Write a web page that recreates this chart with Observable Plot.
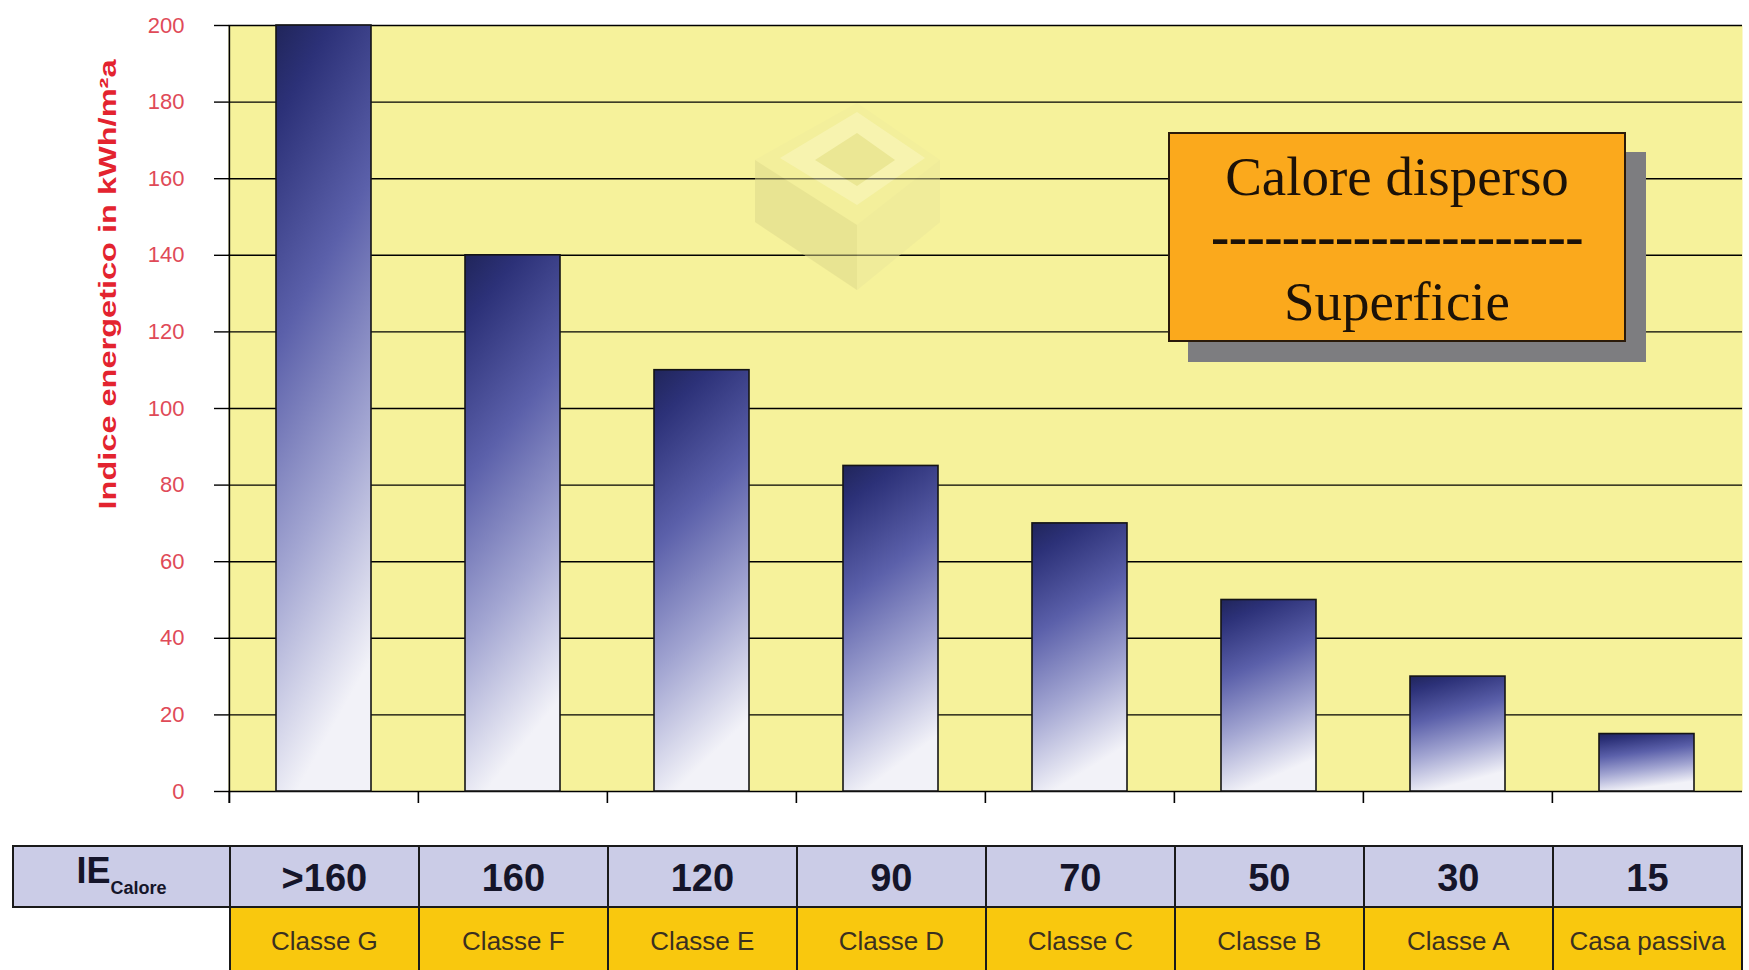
<!DOCTYPE html>
<html>
<head>
<meta charset="utf-8">
<script src="https://cdn.jsdelivr.net/npm/d3@7"></script>
<script src="https://cdn.jsdelivr.net/npm/@observablehq/plot@0.6"></script>
<style>
  body { margin: 0; background: #fff; }
  #wrap { position: relative; width: 1749px; height: 970px; overflow: hidden; font-family: "Liberation Sans", Arial, sans-serif; }
  #wrap svg { position: absolute; left: 0; top: 0; overflow: visible; }
  .cell { position: absolute; box-sizing: border-box; display: flex; align-items: center; justify-content: center; }
  .legendbox { position: absolute; box-sizing: border-box; background: #fba91c; border: 2px solid #2a1a0a; box-shadow: 20px 20px 0 #7d7d80; font-family: "Liberation Serif", "Times New Roman", serif; color: #1c1208; }
  .legendbox div { position: absolute; left: 0; right: 0; text-align: center; white-space: nowrap; }
</style>
</head>
<body>
<div id="wrap"></div>
<script>
// ---- data ----
const categories = ["Classe G", "Classe F", "Classe E", "Classe D", "Classe C", "Classe B", "Classe A", "Casa passiva"];
const values = [200, 140, 110, 85, 70, 50, 30, 15];
const ieLabels = [">160", "160", "120", "90", "70", "50", "30", "15"];
const yTicks = [0, 20, 40, 60, 80, 100, 120, 140, 160, 180, 200];
const yLabel = "Indice energetico in kWh/m²a";
const rowHeaderMain = "IE";
const rowHeaderSub = "Calore";
const boxLines = ["Calore disperso", "---------------------", "Superficie"];

const data = categories.map((c, i) => ({cat: c, value: values[i]}));

// ---- layout ----
const W = 1749, H = 820, ML = 228, MR = 7, MT = 25, MB = 29;
const padInner = 0.5, padOuter = 0.25;
const step = (W - ML - MR) / (categories.length - padInner + 2 * padOuter);

const plot = Plot.plot({
  width: W, height: H,
  marginLeft: ML, marginRight: MR, marginTop: MT, marginBottom: MB,
  style: {background: "transparent", fontFamily: "Liberation Sans, Arial, sans-serif", overflow: "visible"},
  x: {domain: categories, paddingInner: padInner, paddingOuter: padOuter, align: 0.5, axis: null},
  y: {domain: [0, 200], axis: null},
  marks: [
    Plot.frame({fill: "#f6f29b", stroke: "none"}),
    Plot.gridY(yTicks, {stroke: "#000", strokeOpacity: 1, strokeWidth: 1.4}),
    Plot.barY(data, {x: "cat", y: "value", fill: "url(#barGrad)", stroke: "#151515", strokeWidth: 1.6}),
    Plot.ruleX([categories[0]], {x: d => d, dx: -step / 2, stroke: "#000", strokeWidth: 1.6, insetBottom: -12}),
    Plot.axisX(categories, {tickSize: 12, tickFormat: () => "", dx: -step / 2, stroke: "#000", strokeWidth: 1.6, label: null}),
    Plot.axisY(yTicks, {tickSize: 14, tickPadding: 30, stroke: "#000", strokeWidth: 1.4, fill: "#e04a58", fontSize: 22, label: null}),
    Plot.text([yLabel], {text: d => d, frameAnchor: "left", rotate: -90, dx: -120, dy: -124, textAnchor: "middle",
      fontSize: 23, fontWeight: "bold", fill: "#e3232f"})
  ]
});

const svg = d3.select(plot);
const defs = svg.insert("defs", ":first-child");
const grad = defs.append("linearGradient").attr("id", "barGrad")
  .attr("x1", 0).attr("y1", 0).attr("x2", 0.22).attr("y2", 1);
[[0, "#20255a"], [0.12, "#2c3178"], [0.4, "#5b60aa"], [0.7, "#a3a6d2"], [1, "#f2f2f8"]]
  .forEach(([o, c]) => grad.append("stop").attr("offset", o).attr("stop-color", c));

svg.selectAll("text").filter(function() { return this.textContent === yLabel; })
  .attr("textLength", 450).attr("lengthAdjust", "spacingAndGlyphs");

// faint decorative watermark (house logo), drawn over the gridlines but under the bars
const barG = plot.querySelector("g[aria-label*=bar]");
const wm = d3.create("svg:g").attr("opacity", 0.5);
if (barG) barG.parentNode.insertBefore(wm.node(), barG); else plot.appendChild(wm.node());
wm.append("path").attr("d", "M857,103 L940,160 L940,222 L857,290 L755,222 L755,160 Z").attr("fill", "#f1ed9c");
wm.append("path").attr("d", "M755,160 L857,225 L857,290 L755,222 Z").attr("fill", "#dcd78a");
wm.append("path").attr("d", "M857,225 L940,160 L940,222 L857,290 Z").attr("fill", "#ebe79a");
wm.append("path").attr("d", "M780,158 L857,112 L925,158 L857,205 Z").attr("fill", "#f8f5c4");
wm.append("path").attr("d", "M815,160 L857,133 L895,160 L857,186 Z").attr("fill", "#e2dd8e");

const wrap = document.getElementById("wrap");
wrap.appendChild(plot);

// ---- table below the chart, aligned to the x scale ----
const xs = plot.scale("x");
const bw = xs.bandwidth;
const bounds = categories.map(c => xs.apply(c) - (step - bw) / 2);
bounds.push(bounds[bounds.length - 1] + step);

const row1Top = 845, row1H = 63, row2Top = 906, row2H = 80;
function cell(left, top, w, h, bg, html, css) {
  const d = document.createElement("div");
  d.className = "cell";
  Object.assign(d.style, {left: left + "px", top: top + "px", width: w + "px", height: h + "px", background: bg,
    border: "2px solid #1a1a1a"}, css || {});
  d.innerHTML = html;
  wrap.appendChild(d);
  return d;
}
cell(12, row1Top, bounds[0] - 12 + 2, row1H, "#cbcce7",
  `<span style="font-weight:bold;font-size:36px;color:#15152a;position:relative;top:-6px">${rowHeaderMain}</span>` +
  `<span style="font-weight:bold;font-size:18px;color:#15152a;position:relative;top:12px">${rowHeaderSub}</span>`);
categories.forEach((c, i) => {
  const l = bounds[i], w = bounds[i + 1] - bounds[i] + 2;
  cell(l, row1Top, w, row1H, "#cbcce7",
    `<span style="font-weight:bold;font-size:38px;color:#15152a;position:relative;top:2px">${ieLabels[i]}</span>`);
  cell(l, row2Top, w, row2H, "#f9c80e",
    `<span style="font-size:26px;color:#3a3020">${c}</span>`, {alignItems: "flex-start", paddingTop: "18px"});
});

// ---- "Calore disperso / Superficie" box ----
const box = document.createElement("div");
box.className = "legendbox";
Object.assign(box.style, {left: "1168px", top: "132px", width: "458px", height: "210px"});
box.innerHTML = `<div style="top:8px;font-size:55px;line-height:70px">${boxLines[0]}</div>` +
  `<div style="top:68px;font-size:55px;line-height:70px;font-weight:bold;letter-spacing:-0.6px">${boxLines[1]}</div>` +
  `<div style="top:133px;font-size:55px;line-height:70px">${boxLines[2]}</div>`;
wrap.appendChild(box);
</script>
</body>
</html>
